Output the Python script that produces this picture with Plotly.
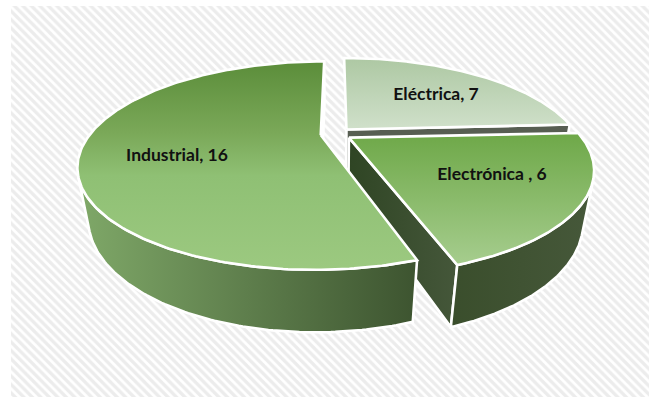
import numpy as np
import plotly.graph_objects as go

categories = ["Eléctrica", "Electrónica ", "Industrial"]
values = [7, 6, 16]

# Vertical gradient stops of each top face, from near edge to far edge
top_colors = [
    [(0, "#d0e0ca"), (1, "#adc8a3")],
    [(0, "#a6cd8e"), (1, "#6ea848")],
    [(0, "#9cc980"), (0.45, "#8fc074"), (0.66, "#7aa858"), (1, "#5b8d3a")],
]
# Horizontal gradient of each outer wall
wall_colors = [
    [(0, "#5a6154"), (1, "#565d50")],
    [(0, "#3a4e2c"), (1, "#46583a")],
    [(0, "#7fa868"), (1, "#3d5430")],
]
# Horizontal gradient of each flat cut face
cut_colors = [
    [(0, "#575e52"), (1, "#575e52")],
    [(0, "#2f4524"), (1, "#45573a")],
    [(0, "#8cb874"), (1, "#8cb874")],
]
label_xy = [(436, 96), (492, 176), (177, 157)]

W, H = 649, 397
CX, CY = 336.0, 134.0      # pie centre on the page
AX, BY = 230.5, 94.7       # radius scale across and along the plate
KP = 0.292                 # perspective strength along the plate
Q, DROP = 0.04, 52.0       # thickness of the plate
EXPLODE = 0.067            # slice offset in radius units


def project(x, y, bottom=False):
    w = 1 + KP * y
    if bottom:
        return CX + AX * x / (w + Q), CY + (DROP - BY * y) / (w + Q)
    return CX + AX * x / w, CY - BY * y / w


def line_trace(px, py, fill_spec, line_width=2.6):
    return go.Scatter(
        x=px, y=py, mode="lines", fill="toself", hoverinfo="skip",
        line=dict(color="white", width=line_width), **fill_spec,
    )


def gradient(kind, stops):
    return dict(fillgradient=dict(
        type=kind, colorscale=[[pos, col] for pos, col in stops]
    ))


fig = go.Figure()

# Hatched panel behind the pie
fig.add_trace(go.Scatter(
    x=[11, W, W, 11, 11], y=[6, 6, H, H, 6],
    mode="lines", fill="toself", hoverinfo="skip", line=dict(width=0),
    fillcolor="#f2f2f2",
    fillpattern=dict(shape="\\", size=6, solidity=0.55,
                     fgcolor="#dadada", bgcolor="#ffffff"),
))

total = sum(values)
edges = np.cumsum([0] + values) / total * 2 * np.pi
texts = []

for i, cat in enumerate(categories):
    a0, a1 = edges[i], edges[i + 1]
    mid = (a0 + a1) / 2
    ox, oy = EXPLODE * np.sin(mid), EXPLODE * np.cos(mid)
    th = np.linspace(a0, a1, 240)
    ax_, ay_ = ox + np.sin(th), oy + np.cos(th)

    # cut face on the trailing side of the slice
    ex, ey = ox + np.sin(a1), oy + np.cos(a1)
    tx0, ty0 = project(ox, oy)
    tx1, ty1 = project(ex, ey)
    bx0, by0 = project(ox, oy, True)
    bx1, by1 = project(ex, ey, True)
    fig.add_trace(line_trace(
        [tx0, tx1, bx1, bx0, tx0], [ty0, ty1, by1, by0, ty0],
        gradient("horizontal", cut_colors[i]),
    ))

    # curved outer wall: only the part whose generator faces the viewer
    tx, ty = project(ax_, ay_)
    bx, by = project(ax_, ay_, True)
    dtx, dty = np.gradient(tx), np.gradient(ty)
    facing = dtx * (by - ty) - dty * (bx - tx) < 0
    if facing.any():
        fig.add_trace(line_trace(
            np.r_[tx[facing], bx[facing][::-1], tx[facing][0]],
            np.r_[ty[facing], by[facing][::-1], ty[facing][0]],
            gradient("horizontal", wall_colors[i]),
        ))

    # top face
    fig.add_trace(line_trace(
        np.r_[tx0, tx, tx0], np.r_[ty0, ty, ty0],
        gradient("vertical", top_colors[i]),
    ))
    texts.append(f"{cat}, {values[i]}")

fig.add_trace(go.Scatter(
    x=[p[0] for p in label_xy], y=[p[1] for p in label_xy],
    mode="text", text=texts, textposition="middle center", hoverinfo="skip",
    textfont=dict(family="Lato", size=17.5, color="#111111", weight="bold"),
))

fig.update_layout(
    width=W, height=H, margin=dict(l=0, r=0, t=0, b=0),
    paper_bgcolor="white", plot_bgcolor="white", showlegend=False,
    xaxis=dict(range=[0, W], visible=False, fixedrange=True),
    yaxis=dict(range=[H, 0], visible=False, fixedrange=True),
)
fig.write_html("out.html", config=dict(displayModeBar=False))
